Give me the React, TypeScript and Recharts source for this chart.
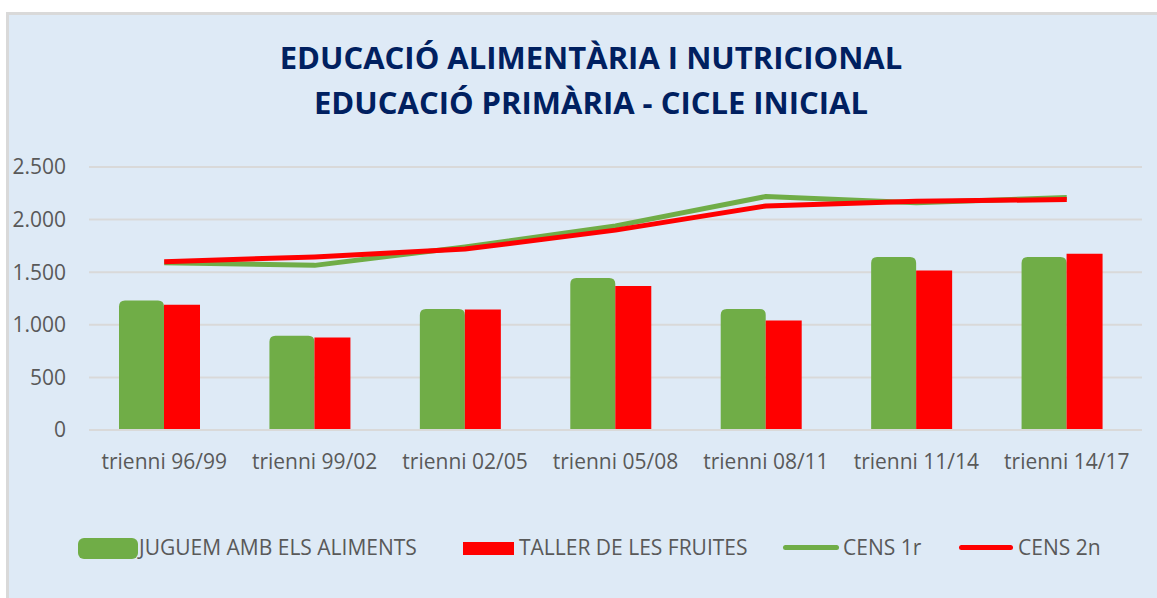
import React from 'react'
import { ComposedChart, Bar, Line, XAxis, YAxis, CartesianGrid } from 'recharts'

const categories = ['trienni 96/99', 'trienni 99/02', 'trienni 02/05', 'trienni 05/08', 'trienni 08/11', 'trienni 11/14', 'trienni 14/17']
const juguem = [1230, 895, 1150, 1445, 1150, 1645, 1645]
const taller = [1190, 880, 1145, 1370, 1040, 1515, 1675]
const cens1 = [1590, 1565, 1740, 1940, 2220, 2160, 2210]
const cens2 = [1600, 1645, 1720, 1900, 2130, 2175, 2190]
const yTicks = [0, 500, 1000, 1500, 2000, 2500]

const GREEN = '#70AD47'
const RED = '#FF0000'
const TEXT = '#595959'
const FONT = '"Open Sans", sans-serif'

const data = categories.map((name, i) => ({
       name,
       juguem: juguem[i],
       taller: taller[i],
       cens1: cens1[i],
       cens2: cens2[i],
}))

const fmt = (v: number) => v >= 1000 ? `${Math.floor(v / 1000)}.${String(v % 1000).padStart(3, '0')}` : String(v)

// green bars in the original have a thick rounded outline, so they look wider on the left
const GreenBar = (props: any) => {
       const { x, y, width, height } = props
       if (!height) return null
       const l = x - 9
       const r = x + width
       const rr = 6
       const d = `M${l},${y + height} L${l},${y + rr} Q${l},${y} ${l + rr},${y} L${r - rr},${y} Q${r},${y} ${r},${y + rr} L${r},${y + height} Z`
       return <path d={d} fill={GREEN} />
}

const legendText: React.CSSProperties = { position: 'absolute', top: 533, fontSize: 21, color: TEXT, fontFamily: FONT, lineHeight: '28px', whiteSpace: 'nowrap' }

export default function App() {
       return (
              <div style={{ position: 'absolute', left: 0, top: 0, width: 1157, height: 598, overflow: 'hidden', background: '#fff' }}>
                     <div style={{ position: 'absolute', left: 6, top: 12, width: 1200, height: 620, background: '#DEEAF6', borderLeft: '3px solid #D9D9D9', borderTop: '3px solid #D9D9D9' }} />
                     <div style={{ position: 'absolute', left: 0, top: 35, width: 1182, textAlign: 'center', color: '#002060', fontFamily: FONT, fontWeight: 700, fontSize: 31, lineHeight: '45px' }}>
                            <div>EDUCACIÓ ALIMENTÀRIA I NUTRICIONAL</div>
                            <div>EDUCACIÓ PRIMÀRIA - CICLE INICIAL</div>
                     </div>
                     <div style={{ position: 'absolute', left: 0, top: 0 }}>
                            <ComposedChart width={1157} height={598} data={data} margin={{ top: 167, right: 15, left: 9, bottom: 128 }} barGap={0}>
                                   <CartesianGrid vertical={false} stroke="#D9D9D9" strokeWidth={2} />
                                   <XAxis dataKey="name" height={40} axisLine={{ stroke: '#D9D9D9', strokeWidth: 2 }} tickLine={false} tickSize={0} tickMargin={24} tick={{ fontSize: 21, fill: TEXT, fontFamily: FONT }} interval={0} />
                                   <YAxis width={80} domain={[0, 2500]} ticks={yTicks} tickFormatter={fmt} axisLine={false} tickLine={false} tickSize={0} tickMargin={23} tick={{ fontSize: 21, fill: TEXT, fontFamily: FONT }} />
                                   <Bar dataKey="juguem" barSize={36} fill={GREEN} shape={<GreenBar />} isAnimationActive={false} />
                                   <Bar dataKey="taller" barSize={36} fill={RED} isAnimationActive={false} />
                                   <Line type="linear" dataKey="cens1" stroke={GREEN} strokeWidth={5} strokeLinejoin="round" dot={false} isAnimationActive={false} />
                                   <Line type="linear" dataKey="cens2" stroke={RED} strokeWidth={5} strokeLinejoin="round" dot={false} isAnimationActive={false} />
                            </ComposedChart>
                     </div>
                     <div style={{ position: 'absolute', left: 78, top: 538, width: 60, height: 21, borderRadius: 6, background: GREEN }} />
                     <div style={{ ...legendText, left: 139 }}>JUGUEM AMB ELS ALIMENTS</div>
                     <div style={{ position: 'absolute', left: 463, top: 542, width: 51, height: 13, background: RED }} />
                     <div style={{ ...legendText, left: 519 }}>TALLER DE LES FRUITES</div>
                     <div style={{ position: 'absolute', left: 783, top: 545, width: 56, height: 5, borderRadius: 3, background: GREEN }} />
                     <div style={{ ...legendText, left: 843 }}>CENS 1r</div>
                     <div style={{ position: 'absolute', left: 959, top: 545, width: 54, height: 5, borderRadius: 3, background: RED }} />
                     <div style={{ ...legendText, left: 1018 }}>CENS 2n</div>
              </div>
       )
}
